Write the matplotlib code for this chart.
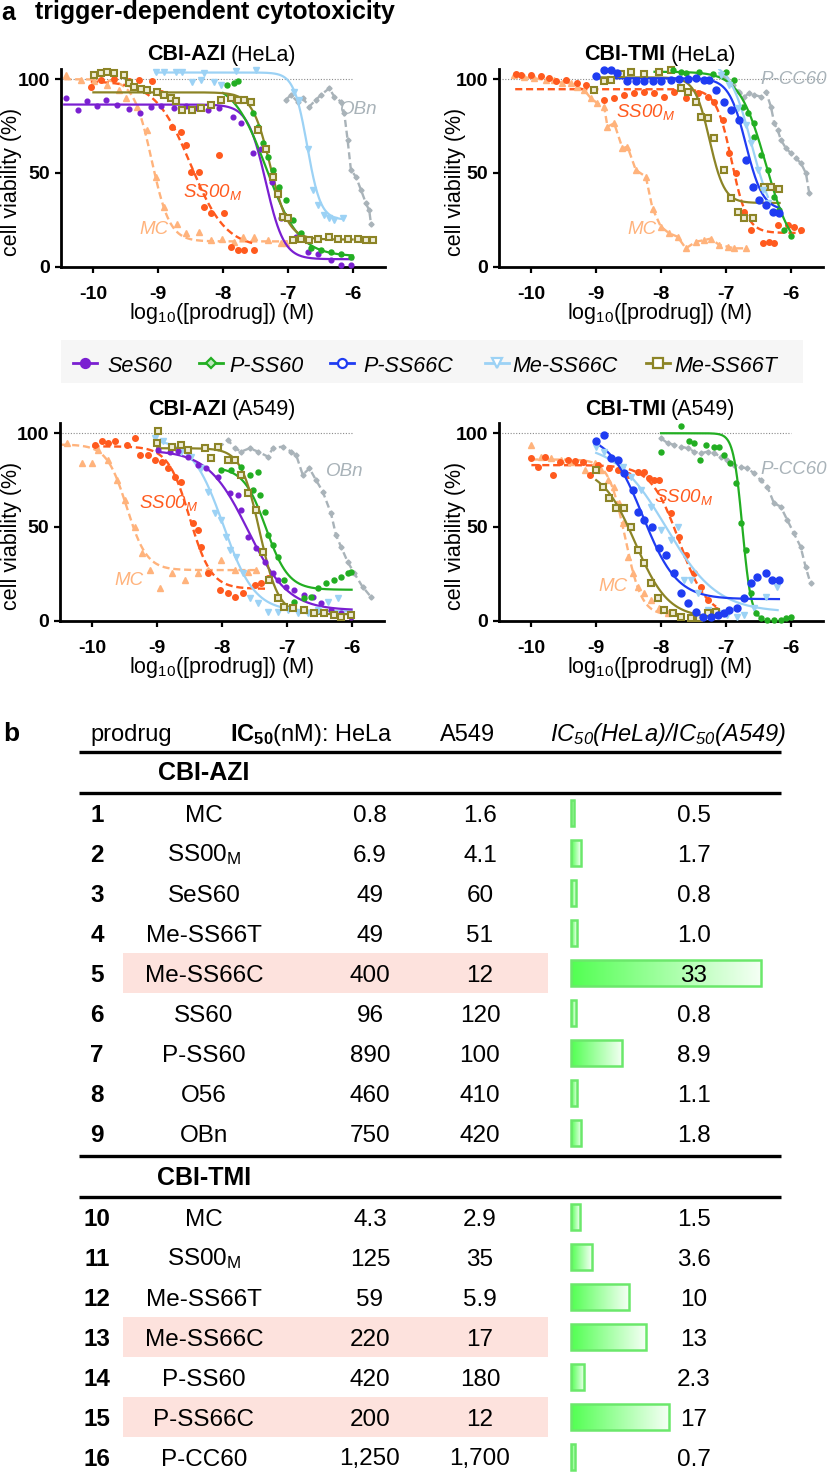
import numpy as np
import matplotlib
matplotlib.use('Agg')
import matplotlib.pyplot as plt
from matplotlib.colors import LinearSegmentedColormap
from matplotlib.patches import Rectangle
from matplotlib.lines import Line2D

FONT = 'Liberation Sans'
plt.rcParams['font.family'] = [FONT, 'DejaVu Sans']
plt.rcParams['mathtext.fontset'] = 'custom'
plt.rcParams['mathtext.rm'] = FONT
plt.rcParams['mathtext.it'] = FONT + ':italic'
plt.rcParams['mathtext.bf'] = FONT + ':bold'
plt.rcParams['mathtext.default'] = 'regular'
plt.rcParams['axes.unicode_minus'] = False

# ======================= DATA =======================
# fit arrays: [top, bottom, logIC50, hill, x_start, x_end]
# ---- CBI-AZI (HeLa)
TL_SES60_X = [-10.417,-10.237,-10.103,-9.938,-9.810,-9.629,-9.449,-9.279,-9.115,-8.960,-8.754,-8.574,-8.394,-8.239,-8.059,-7.853,-7.725,-7.544,-7.416,-7.251,-7.107,-6.875,-6.695,-6.540,-6.335,-6.180,-6.026]
TL_SES60_Y = [89.9,83.6,88.6,85.8,89.0,86.3,84.0,82.0,85.4,85.8,84.5,85.8,84.5,83.6,84.5,80.0,76.5,60.5,62.8,45.4,25.8,16.0,8.0,7.0,3.5,1.0,1.0]
TL_SES60_FIT = [86.5, 4.0, -7.34, 3.1, -10.45, -6.0]
TL_PSS60_X = [-7.931,-7.828,-7.776,-7.647,-7.544,-7.467,-7.390,-7.313,-7.236,-7.133,-7.030,-6.927,-6.798,-6.644,-6.489,-6.335,-6.180,-6.026]
TL_PSS60_Y = [97,98,98.8,89,82,74.7,65.8,58.7,51.6,42.7,35.6,25,17.8,9.8,8.9,8,7,5.3]
TL_PSS60_FIT = [99.0, 5.5, -7.33, 1.7, -8.0, -6.0]
TL_MESS66C_X = [-9.037,-8.909,-8.728,-8.625,-8.471,-8.342,-8.291,-8.136,-8.033,-7.802,-7.493,-6.901,-6.824,-6.695,-6.618,-6.540,-6.438,-6.360,-6.283,-6.154]
TL_MESS66C_Y = [104,104,104,104,98.6,99.6,103.5,98.6,97,104.6,105,93.4,89,63,41,33,27.6,25.8,24.9,25.8]
TL_MESS66C_FIT = [103.6, 25.0, -6.70, 4.2, -9.04, -6.15]
TL_MESS66T_X = [-9.990,-9.887,-9.784,-9.681,-9.526,-9.449,-9.372,-9.269,-9.166,-9.012,-8.909,-8.806,-8.728,-8.625,-8.471,-8.342,-8.188,-8.033,-7.879,-7.776,-7.673,-7.570,-7.467,-7.338,-7.236,-7.158,-7.081,-7.004,-6.927,-6.798,-6.669,-6.540,-6.360,-6.232,-6.077,-5.923,-5.794,-5.691]
TL_MESS66T_Y = [102,103.5,104,103.5,102,97.8,96,94.6,94.3,93.4,91.6,89.8,88.6,83.6,83.6,84.5,86.3,89,89.9,89,89,88,73,63,48,39,26.7,25.8,14,15,14,15,16,15,15,14.6,14.2,14.2]
TL_MESS66T_FIT = [93.0, 14.5, -7.27, 3.1, -10.0, -6.0]
TL_MC_X = [-10.427,-10.196,-9.990,-9.784,-9.604,-9.501,-9.320,-9.166,-9.037,-8.909,-8.703,-8.574,-8.368,-8.188,-8.008,-7.828,-7.699,-7.519,-7.313,-7.107,-7.030]
TL_MC_Y = [102,99.6,99,97,94,90,85,73,48,32,23,17.8,18.7,14,14.6,13,16,16,14,12.5,12.5]
TL_MC_FIT = [100.0, 13.5, -9.10, 3.1, -10.45, -7.0]
TL_SS00M_X = [-10.041,-9.887,-9.681,-9.449,-9.295,-9.089,-8.960,-8.780,-8.651,-8.574,-8.497,-8.368,-8.291,-8.188,-8.059,-7.992,-7.879,-7.776,-7.673,-7.519]
TL_SS00M_Y = [95.7,99.6,100,98.8,99.6,98.8,92.5,74.7,72,65,50.7,50.7,32,28.5,59.6,28.5,10.7,9,9,9]
TL_SS00M_FIT = [99.0, 10.0, -8.50, 1.6, -10.04, -7.5]
TL_OBN_X = [-7.030,-6.952,-6.849,-6.772,-6.669,-6.566,-6.489,-6.360,-6.283,-6.180,-6.129,-6.077,-6.026,-5.949,-5.871,-5.794,-5.743,-5.717]
TL_OBN_Y = [89,91.6,88,90,85.4,89,91.6,95.2,90.7,88,81.9,67.6,51.6,48,41,33.8,30,23]

# ---- CBI-TMI (HeLa)
TR_PSS66C_X = [-9.006,-8.878,-8.775,-8.672,-8.517,-8.389,-8.260,-8.131,-8.003,-7.848,-7.719,-7.591,-7.462,-7.333,-7.256,-7.153,-7.024,-6.921,-6.793,-6.690,-6.587,-6.484,-6.381,-6.278,-6.175]
TR_PSS66C_Y = [101.8,105,105,103.5,98.8,98.8,98.8,98.8,98.8,99.6,100,100,100.5,99.6,99.6,94.3,88,83.6,78.3,57,42.7,35.6,33,29.4,28.5]
TR_PSS66C_FIT = [100.5, 30.0, -6.69, 3.3, -9.0, -6.17]
TR_PSS60_X = [-7.822,-7.694,-7.616,-7.411,-7.205,-6.999,-6.870,-6.741,-6.664,-6.561,-6.561,-6.458,-6.355,-6.252,-6.175,-6.098,-5.995]
TR_PSS60_Y = [105,104,103.5,104,103,104,99.6,85.4,81.9,76.5,69.4,59.6,51.6,37.4,30.2,19.6,16.4]
TR_PSS60_FIT = [104.0, 5.0, -6.38, 2.1, -8.1, -6.0]
TR_MESS66C_X = [-7.076,-6.947,-6.818,-6.690,-6.613,-6.510,-6.432,-6.355]
TR_MESS66C_Y = [102,97,84.5,75.6,65.8,51.6,41,33.8]
TR_MESS66C_FIT = [110.0, 20.0, -6.60, 2.5, -7.1, -6.35]
TR_MESS66T_X = [-9.032,-8.878,-8.775,-8.620,-8.466,-8.260,-8.028,-7.848,-7.694,-7.591,-7.462,-7.385,-7.282,-7.179,-7.024,-6.921,-6.818,-6.716,-6.587,-6.407,-6.304,-6.175]
TR_MESS66T_Y = [94.3,98.8,99.6,103,104,103,104,105,95.2,93.4,88,80,79.2,68.5,51.6,36.5,29.4,25.8,25.8,42.7,42.7,41.3]
TR_MESS66T_FIT = [101.0, 34.0, -7.25, 3.8, -9.03, -6.17]
TR_MC_X = [-10.268,-10.113,-9.959,-9.779,-9.650,-9.521,-9.393,-9.290,-9.187,-9.084,-8.981,-8.878,-8.826,-8.723,-8.595,-8.517,-8.389,-8.234,-8.131,-8.003,-7.874,-7.745,-7.617,-7.462,-7.333,-7.230,-7.102,-6.973,-6.870,-6.690]
TR_MC_Y = [102,101,100.5,99.6,99.6,97.9,97.9,96,94.3,89.9,87.2,85.4,74.7,76.5,63.2,64,51.6,48,31,21.4,17.8,16,9.8,13.3,14.2,15,11.6,10.7,9.8,9.8]
TR_SS00M_X = [-10.242,-10.165,-10.010,-9.856,-9.727,-9.624,-9.470,-9.290,-9.161,-9.032,-8.878,-8.723,-8.569,-8.414,-8.260,-8.106,-7.951,-7.797,-7.617,-7.436,-7.282,-7.179,-7.050,-6.947,-6.844,-6.716,-6.613,-6.432,-6.329,-6.252,-6.201,-6.046,-5.943,-5.840]
TR_SS00M_Y = [102.8,102,102,101.8,100.5,98.8,99.6,97.9,97,94.3,89,89.9,91.6,92.5,93.4,92.5,90.7,93.4,89.9,92.5,90.7,88,78.3,60.5,49.8,29.4,19.6,12.5,13.3,12.8,22.2,22.2,21.4,19.6]
TR_SS00M_FIT = [94.7, 18.0, -6.91, 3.6, -10.25, -5.84]
TR_PCC60_X = [-7.076,-6.999,-6.896,-6.793,-6.716,-6.638,-6.561,-6.458,-6.381,-6.304,-6.252,-6.201,-6.149,-6.072,-5.995,-5.918,-5.840,-5.763,-5.712]
TR_PCC60_Y = [102,100.5,97,93.4,90.7,92.5,91.6,90.7,93.4,85.4,76.5,73,67.6,63.2,60.5,57.8,55.2,49.8,39.1]

# ---- CBI-AZI (A549)
BL_SES60_X = [-8.985,-8.805,-8.677,-8.523,-8.369,-8.241,-8.062,-7.882,-7.754,-7.703,-7.600,-7.472,-7.344,-7.215,-7.138,-7.010,-6.882,-6.728,-6.600,-6.472,-6.318,-6.164,-6.010]
BL_SES60_Y = [91,90.2,90.7,87.5,83.1,81.3,76.9,68,67,59,44.8,38.6,31.5,25.3,21.7,18.1,16.4,13.7,12.8,9.3,5.7,3.9,2.1]
BL_SES60_FIT = [91.0, 5.5, -7.60, 1.4, -9.0, -6.0]
BL_PSS60_X = [-8.010,-7.856,-7.703,-7.574,-7.446,-7.523,-7.421,-7.344,-7.292,-7.215,-7.138,-7.036,-6.882,-6.728,-6.626,-6.523,-6.395,-6.267,-6.164,-6.062,-6.010]
BL_PSS60_Y = [80.4,80.4,82.2,77.8,79.5,69.8,67,58.2,45.7,40.4,34.2,21.7,10.1,11.9,12.8,17.3,19.9,21.7,23.5,25.3,26.2]
BL_PSS60_FIT = [82.0, 16.5, -7.32, 2.5, -8.0, -6.0]
BL_MESS66C_X = [-9.036,-8.908,-8.779,-8.626,-8.472,-8.318,-8.215,-8.113,-8.010,-7.933,-7.882,-7.779,-7.677,-7.574,-7.446,-7.292,-7.138,-6.985,-6.831,-6.677,-6.523,-6.369,-6.215]
BL_MESS66C_Y = [97.3,95.6,92,90.2,87.5,81.3,68.9,57.3,53.7,44.8,37.7,34.2,25.3,11.9,9.3,4.8,4.8,5.7,3.9,3.9,5.7,10.1,11.9]
BL_MESS66C_FIT = [97.0, 5.0, -7.98, 1.8, -9.04, -6.0]
BL_MESS66T_X = [-9.010,-8.985,-8.779,-8.626,-8.523,-8.267,-8.062,-8.164,-7.908,-7.805,-7.703,-7.600,-7.472,-7.369,-7.267,-7.138,-7.036,-6.908,-6.728,-6.574,-6.421,-6.267,-6.164,-6.010]
BL_MESS66T_Y = [94.7,101.4,92.9,93.8,91.1,92,92.9,86.7,85.8,85.8,77.8,68,59,36.8,21.7,11.9,7.5,6.6,5.7,3.9,3.9,3,2.1,3]
BL_MESS66T_FIT = [92.0, 3.5, -7.42, 3.0, -9.0, -6.0]
BL_MC_X = [-10.395,-10.164,-10.010,-9.908,-9.754,-9.626,-9.497,-9.344,-9.241,-9.113,-8.959,-8.779,-8.574,-8.369,-8.215,-8.010,-7.805,-7.600,-7.472]
BL_MC_Y = [94.7,84,84,91,85.8,75,64.4,50.2,36,27,17.3,25.3,21.7,25.3,27,32.4,27,26.2,27]
BL_MC_FIT = [94.0, 27.0, -9.47, 2.8, -10.48, -7.45]
BL_SS00M_X = [-9.959,-9.856,-9.754,-9.651,-9.472,-9.344,-9.267,-9.138,-9.036,-8.933,-8.831,-8.728,-8.626,-8.446,-8.369,-8.318,-8.215,-8.036,-7.908,-7.805,-7.677,-7.497,-7.395,-7.292]
BL_SS00M_Y = [93.8,96,94.7,95.6,93.8,97.3,88.4,88.4,85.8,84.9,81.3,76.9,74.2,52,48.4,39.5,25.3,16.4,14.6,12.8,14.6,19,20,22.6]
BL_SS00M_FIT = [93.0, 17.0, -8.50, 2.6, -10.0, -7.3]
BL_OBN_X = [-8.062,-7.908,-7.805,-7.703,-7.574,-7.446,-7.292,-7.215,-7.062,-6.933,-6.856,-6.754,-6.651,-6.549,-6.446,-6.318,-6.241,-6.164,-6.062,-5.959,-5.831,-5.703]
BL_OBN_Y = [92,96.4,92,90.2,92,90.2,87.5,92,92.9,90.2,88.4,77.8,81.3,75,68.9,57.3,45.7,39.5,31.5,25.3,18.1,12.8]

# ---- CBI-TMI (A549)
BR_PSS66C_X = [-9.0,-8.872,-8.769,-8.667,-8.564,-8.436,-8.349,-8.256,-8.144,-8.026,-7.923,-7.795,-7.692,-7.590,-7.462,-7.359,-7.231,-7.128,-7.026,-6.949,-6.821,-6.718,-6.615,-6.513,-6.385,-6.282,-6.179]
BR_PSS66C_Y = [95.6,99.1,86.7,85.8,78.6,69.8,58.2,53.7,50.2,38.6,35,25.3,14.6,9.3,4.8,2.1,2.1,3,3.9,5.7,6.6,11.9,19.9,23.5,25.3,21.7,21.7]
BR_PSS66C_FIT = [100.0, 11.5, -8.28, 1.65, -9.0, -6.18]
BR_PSS60_X = [-8.0,-7.692,-7.564,-7.487,-7.395,-7.308,-7.179,-7.103,-7.026,-6.933,-6.846,-6.769,-6.692,-6.615,-6.538,-6.462,-6.359,-6.256,-6.154,-6.077,-6.0]
BR_PSS60_Y = [90.2,104,95.6,94.7,85.8,93.8,92.9,92.9,88.4,84,73.3,52,37.7,14.6,3.9,1.2,0.4,0.4,0.4,1.2,2.1]
BR_PSS60_FIT = [100.0, 0.0, -6.745, 6.3, -8.0, -6.5]
BR_MESS66C_X = [-9.0,-8.872,-8.718,-8.590,-8.462,-8.308,-8.154,-8.0,-7.846,-7.744,-7.641,-7.538,-7.436,-7.282,-7.128,-6.974,-6.821,-6.718,-6.564,-6.385,-6.205]
BR_MESS66C_Y = [92.9,90.2,85.8,82.2,76.9,69.8,60.9,48.4,43,50.2,21.7,21.7,14.6,5.7,3.9,3,2.1,3,6.6,12.8,18.1]
BR_MESS66C_FIT = [95.0, 4.5, -7.92, 1.1, -9.0, -6.2]
BR_MESS66T_X = [-9.0,-8.897,-8.795,-8.692,-8.564,-8.462,-8.359,-8.256,-8.154,-8.051,-7.949,-7.821,-7.692,-7.538,-7.410,-7.282,-7.154]
BR_MESS66T_Y = [80.4,71.5,65.3,60,60,50.2,37.7,30.6,19.9,11.9,5.7,3.9,2.1,1.2,1.2,3.9,4.8]
BR_MESS66T_FIT = [82.0, 1.5, -8.40, 1.7, -9.0, -7.15]
BR_MC_X = [-10.0,-9.846,-9.692,-9.538,-9.385,-9.179,-9.026,-8.923,-8.821,-8.718,-8.641,-8.590,-8.513,-8.436,-8.359,-8.256,-8.154,-8.026,-7.897]
BR_MC_Y = [93.8,87.5,86.7,85.8,84.9,80.4,84,80.4,75,71.5,62.6,52,34.2,25.3,18.1,14.6,11,6.6,3.9]
BR_MC_FIT = [86.0, 3.0, -8.555, 3.4, -10.0, -7.9]
BR_SS00M_X = [-10.0,-9.897,-9.795,-9.667,-9.564,-9.436,-9.333,-9.205,-9.103,-8.974,-8.795,-8.667,-8.513,-8.359,-8.256,-8.179,-8.103,-8.026,-7.846,-7.718,-7.615,-7.487,-7.385,-7.282,-7.154]
BR_SS00M_Y = [86.7,82.2,87.5,77.8,84.9,85.8,85.4,84.9,77.8,83.1,81.3,80.4,77.8,79.5,79.5,76,75,75,57.3,44.8,35,25.3,18.1,11,5.7]
BR_SS00M_FIT = [83.0, 2.0, -7.72, 2.0, -10.0, -7.15]
BR_PCC60_X = [-8.0,-7.897,-7.795,-7.692,-7.590,-7.487,-7.385,-7.282,-7.179,-7.077,-6.974,-6.872,-6.769,-6.667,-6.564,-6.462,-6.359,-6.256,-6.154,-6.051,-5.949,-5.846,-5.769,-5.692]
BR_PCC60_Y = [97.3,94.7,93.8,92.9,92,90.2,89.3,90.2,89.3,87.5,85.8,83.1,81.9,81.3,78.6,75,71.5,62.6,60.9,53.7,46.6,39.5,28.8,19.9]

X_TICKS = [-10, -9, -8, -7, -6]
Y_TICKS = [0, 50, 100]
LEGEND_NAMES = ['SeS60', 'P-SS60', 'P-SS66C', 'Me-SS66C', 'Me-SS66T']

# ---- table
AZI_IDS = ['1', '2', '3', '4', '5', '6', '7', '8', '9']
AZI_NAMES = ['MC', 'SS00$_\\mathrm{M}$', 'SeS60', 'Me-SS66T', 'Me-SS66C', 'SS60', 'P-SS60', 'O56', 'OBn']
AZI_HELA = ['0.8', '6.9', '49', '49', '400', '96', '890', '460', '750']
AZI_A549 = ['1.6', '4.1', '60', '51', '12', '120', '100', '410', '420']
AZI_RATIO = [0.5, 1.7, 0.8, 1.0, 33, 0.8, 8.9, 1.1, 1.8]
AZI_HIGHLIGHT = [False, False, False, False, True, False, False, False, False]
TMI_IDS = ['10', '11', '12', '13', '14', '15', '16']
TMI_NAMES = ['MC', 'SS00$_\\mathrm{M}$', 'Me-SS66T', 'Me-SS66C', 'P-SS60', 'P-SS66C', 'P-CC60']
TMI_HELA = ['4.3', '125', '59', '220', '420', '200', '1,250']
TMI_A549 = ['2.9', '35', '5.9', '17', '180', '12', '1,700']
TMI_RATIO = [1.5, 3.6, 10, 13, 2.3, 17, 0.7]
TMI_HIGHLIGHT = [False, False, False, True, False, True, False]

# ======================= STYLE =======================
C_SES = '#7a1fd1'
C_PSS60 = '#22ae22'
C_PSS66C = '#1f3cf2'
C_MESS66C = '#9cd2f5'
C_MESS66T = '#8c8426'
C_SS00 = '#ff5a1e'
C_MC = '#ffb37c'
C_GRAY = '#a9b3b9'

W, H = 829, 1473
fig = plt.figure(figsize=(W / 100, H / 100), dpi=100)
fig.patch.set_facecolor('white')


def px_axes(l, t, r, b, z=2):
    ax = fig.add_axes([l / W, 1 - b / H, (r - l) / W, (b - t) / H])
    ax.set_zorder(z)
    return ax


def logistic(x, top, bottom, x0, hill):
    return bottom + (top - bottom) / (1 + 10 ** ((x - x0) * hill))


# overlay axes in pixel coordinates
ax_bg = fig.add_axes([0, 0, 1, 1]); ax_bg.set_zorder(0)
ax_bg.set_xlim(0, W); ax_bg.set_ylim(H, 0); ax_bg.axis('off')
ax_t = fig.add_axes([0, 0, 1, 1]); ax_t.set_zorder(5)
ax_t.set_xlim(0, W); ax_t.set_ylim(H, 0); ax_t.axis('off'); ax_t.patch.set_alpha(0)


def setup_panel(ax, hline):
    ax.set_xlim(-10.5, -5.5)
    ax.set_ylim(0, 105.3)
    ax.patch.set_alpha(0)
    for s in ['top', 'right']:
        ax.spines[s].set_visible(False)
    for s in ['left', 'bottom']:
        ax.spines[s].set_linewidth(2.0)
    ax.set_xticks(X_TICKS)
    ax.set_yticks(Y_TICKS)
    ax.set_xticklabels([str(v) for v in X_TICKS])
    ax.set_yticklabels([str(v) for v in Y_TICKS])
    ax.tick_params(axis='both', direction='out', length=4.5, width=1.6, labelsize=14)
    ax.tick_params(axis='x', pad=9.5)
    ax.tick_params(axis='y', pad=3.5)
    for lb in ax.get_xticklabels() + ax.get_yticklabels():
        lb.set_fontweight('bold')
    ax.plot(hline, [100, 100], color='#8a8a8a', lw=0.8, ls=(0, (1, 1.5)), zorder=1)


def main_series(ax, x, y, fit, color, marker, ms, mfc=None, mew=1.0, z=4):
    xs = np.linspace(fit[4], fit[5], 300)
    ax.plot(xs, logistic(xs, *fit[:4]), color=color, lw=1.6, zorder=z)
    ax.plot(x, y, ls='none', marker=marker, ms=ms, mfc=mfc if mfc else color,
            mec=color, mew=mew, zorder=z + 0.5, clip_on=False)


def ref_fit(ax, x, y, fit, color, marker, ms, z=2):
    xs = np.linspace(fit[4], fit[5], 300)
    ax.plot(xs, logistic(xs, *fit[:4]), color=color, lw=1.7, ls=(0, (3, 1.6)), zorder=z)
    ax.plot(x, y, ls='none', marker=marker, ms=ms, color=color, zorder=z + 0.5, clip_on=False)


def ref_line(ax, x, y, color, marker, ms, z=1.5):
    order = np.argsort(x)
    xs = np.array(x)[order]; ys = np.array(y)[order]
    ax.plot(xs, ys, color=color, lw=1.7, ls=(0, (3, 1.6)), zorder=z)
    ax.plot(xs, ys, ls='none', marker=marker, ms=ms, color=color, zorder=z + 0.5, clip_on=False)


def lbl(ax, x, y, s, color, ha='center'):
    ax.text(x, y, s, color=color, style='italic', fontsize=13.5, ha=ha, va='center', clip_on=False, zorder=8)


SS00_LABEL = 'SS00$_M$'

# ---------------- panels ----------------
ax1 = px_axes(61, 69.3, 385, 266.7)
setup_panel(ax1, [-10.48, -6.0])
ref_line(ax1, TL_OBN_X, TL_OBN_Y, C_GRAY, 'D', 2.6)
ref_fit(ax1, TL_MC_X, TL_MC_Y, TL_MC_FIT, C_MC, '^', 3.8)
ref_fit(ax1, TL_SS00M_X, TL_SS00M_Y, TL_SS00M_FIT, C_SS00, 'o', 4.0)
main_series(ax1, TL_MESS66C_X, TL_MESS66C_Y, TL_MESS66C_FIT, C_MESS66C, 'v', 5.0)
main_series(ax1, TL_SES60_X, TL_SES60_Y, TL_SES60_FIT, C_SES, 'o', 3.4)
main_series(ax1, TL_PSS60_X, TL_PSS60_Y, TL_PSS60_FIT, C_PSS60, 'o', 3.6)
main_series(ax1, TL_MESS66T_X, TL_MESS66T_Y, TL_MESS66T_FIT, C_MESS66T, 's', 4.6, mfc='#efedd8', mew=1.5)
lbl(ax1, -8.16, 40, SS00_LABEL, C_SS00)
lbl(ax1, -9.07, 19.6, 'MC', C_MC)
lbl(ax1, -5.91, 83.6, 'OBn', C_GRAY)

ax2 = px_axes(499, 69.3, 823, 266.7)
setup_panel(ax2, [-10.45, -5.5])
ref_line(ax2, TR_PCC60_X, TR_PCC60_Y, C_GRAY, 'D', 2.6)
ref_line(ax2, TR_MC_X, TR_MC_Y, C_MC, '^', 3.8, z=2)
ref_fit(ax2, TR_SS00M_X, TR_SS00M_Y, TR_SS00M_FIT, C_SS00, 'o', 4.0)
main_series(ax2, TR_MESS66T_X, TR_MESS66T_Y, TR_MESS66T_FIT, C_MESS66T, 's', 4.6, mfc='#efedd8', mew=1.5)
main_series(ax2, TR_PSS60_X, TR_PSS60_Y, TR_PSS60_FIT, C_PSS60, 'o', 3.6)
main_series(ax2, TR_MESS66C_X, TR_MESS66C_Y, TR_MESS66C_FIT, C_MESS66C, 'v', 5.0)
main_series(ax2, TR_PSS66C_X, TR_PSS66C_Y, TR_PSS66C_FIT, C_PSS66C, 'o', 5.0)
lbl(ax2, -8.234, 82.7, SS00_LABEL, C_SS00)
lbl(ax2, -8.30, 19.6, 'MC', C_MC)
lbl(ax2, -6.46, 99.6, 'P-CC60', C_GRAY, ha='left')

ax3 = px_axes(60, 423.3, 384, 620.7)
setup_panel(ax3, [-10.47, -6.0])
ref_line(ax3, BL_OBN_X, BL_OBN_Y, C_GRAY, 'D', 2.6)
ref_fit(ax3, BL_MC_X, BL_MC_Y, BL_MC_FIT, C_MC, '^', 3.8)
ref_fit(ax3, BL_SS00M_X, BL_SS00M_Y, BL_SS00M_FIT, C_SS00, 'o', 4.0)
main_series(ax3, BL_MESS66C_X, BL_MESS66C_Y, BL_MESS66C_FIT, C_MESS66C, 'v', 5.0)
main_series(ax3, BL_SES60_X, BL_SES60_Y, BL_SES60_FIT, C_SES, 'o', 3.4)
main_series(ax3, BL_PSS60_X, BL_PSS60_Y, BL_PSS60_FIT, C_PSS60, 'o', 3.6)
main_series(ax3, BL_MESS66T_X, BL_MESS66T_Y, BL_MESS66T_FIT, C_MESS66T, 's', 4.6, mfc='#efedd8', mew=1.5)
lbl(ax3, -8.83, 62.6, SS00_LABEL, C_SS00)
lbl(ax3, -9.44, 21.7, 'MC', C_MC)
lbl(ax3, -6.11, 79.5, 'OBn', C_GRAY)

ax4 = px_axes(499, 423.3, 823, 620.7)
setup_panel(ax4, [-10.5, -6.0])
ref_line(ax4, BR_PCC60_X, BR_PCC60_Y, C_GRAY, 'D', 2.6)
ref_fit(ax4, BR_MC_X, BR_MC_Y, BR_MC_FIT, C_MC, '^', 3.8)
ref_fit(ax4, BR_SS00M_X, BR_SS00M_Y, BR_SS00M_FIT, C_SS00, 'o', 4.0)
main_series(ax4, BR_MESS66C_X, BR_MESS66C_Y, BR_MESS66C_FIT, C_MESS66C, 'v', 5.0)
main_series(ax4, BR_PSS60_X, BR_PSS60_Y, BR_PSS60_FIT, C_PSS60, 'o', 3.6)
main_series(ax4, BR_MESS66T_X, BR_MESS66T_Y, BR_MESS66T_FIT, C_MESS66T, 's', 4.6, mfc='#efedd8', mew=1.5)
main_series(ax4, BR_PSS66C_X, BR_PSS66C_Y, BR_PSS66C_FIT, C_PSS66C, 'o', 5.0)
lbl(ax4, -7.65, 66.2, SS00_LABEL, C_SS00)
lbl(ax4, -8.74, 18.1, 'MC', C_MC)
lbl(ax4, -6.46, 80.4, 'P-CC60', C_GRAY, ha='left')

# ---------------- panel text ----------------
renderer = fig.canvas.get_renderer()


def title2(xc, yb, bold, normal, size=15.5):
    t1 = ax_t.text(0, yb, bold, weight='bold', fontsize=size, va='baseline', ha='left')
    t2 = ax_t.text(0, yb, normal, fontsize=size, va='baseline', ha='left')
    w1 = t1.get_window_extent(renderer).width
    w2 = t2.get_window_extent(renderer).width
    gap = 5
    x0 = xc - (w1 + gap + w2) / 2
    t1.set_x(x0)
    t2.set_x(x0 + w1 + gap)


title2(222, 60.5, 'CBI-AZI', '(HeLa)')
title2(660, 60.5, 'CBI-TMI', '(HeLa)')
title2(222, 415, 'CBI-AZI', '(A549)')
title2(660, 415, 'CBI-TMI', '(A549)')

XLAB = 'log$_{\\mathrm{10}}$([prodrug]) (M)'
for xc, yc in [(222, 313), (660, 313), (222, 667), (660, 667)]:
    ax_t.text(xc, yc, XLAB, fontsize=15.5, ha='center', va='center')
for xc, yc in [(12, 182), (456, 182), (12, 536), (456, 536)]:
    ax_t.text(xc, yc, 'cell viability (%)', fontsize=15.5, ha='center', va='center', rotation=90)

ax_t.text(1, 19.5, 'a', fontsize=18, weight='bold', va='baseline', ha='left')
ax_t.text(35, 19.5, 'trigger-dependent cytotoxicity', fontsize=18, weight='bold', va='baseline', ha='left')

# ---------------- legend ----------------
ax_bg.add_patch(Rectangle((61, 340), 742, 43, facecolor='#f6f6f6', edgecolor='none'))
leg_markers = [('o', C_SES, C_SES), ('D', C_PSS60, '#bfe8bf'), ('o', C_PSS66C, 'white'),
               ('v', C_MESS66C, 'white'), ('s', C_MESS66T, 'white')]
leg_pos = [(85, 107), (211, 229), (342, 363), (497, 512), (658, 674)]
for (mk, col, fc), (cx, tx), name in zip(leg_markers, leg_pos, LEGEND_NAMES):
    ax_t.add_line(Line2D([cx - 12, cx + 12], [363, 363], color=col, lw=2.0))
    ax_t.add_line(Line2D([cx], [363], marker=mk, ms=6.5 if mk != 'D' else 5.5, mfc=fc, mec=col, mew=1.6,
                         color=col, ls='none'))
    ax_t.text(tx, 371.5, name, fontsize=15.5, style='italic', va='baseline', ha='left')

# ---------------- table ----------------
TS = 17.5
HS = 17
ax_t.text(3, 741, 'b', fontsize=19, weight='bold', va='baseline', ha='left')
ax_t.text(90, 741, 'prodrug', fontsize=HS, va='baseline', ha='left')
ax_t.text(230, 741, '$\\mathbf{IC_{50}}$(nM): HeLa', fontsize=HS, va='baseline', ha='left')
ax_t.text(440, 741, 'A549', fontsize=HS, va='baseline', ha='left')
ax_t.text(550, 741, '$IC_{50}$(HeLa)/$IC_{50}$(A549)', fontsize=HS, style='italic', va='baseline', ha='left')
for yl in [752, 793, 1156, 1197]:
    ax_t.add_line(Line2D([79, 781], [yl, yl], color='black', lw=2.4, solid_capstyle='butt'))
ax_t.text(204, 780, 'CBI-AZI', fontsize=18, weight='bold', va='baseline', ha='center')
ax_t.text(204, 1185, 'CBI-TMI', fontsize=18, weight='bold', va='baseline', ha='center')

BAR_LEFT_PX, BAR_RIGHT_PX, PX_PER_UNIT = 571, 815, 5.76
ax_bar = px_axes(BAR_LEFT_PX, 0, BAR_RIGHT_PX, H, z=1)
ax_bar.axis('off')
green_cmap = LinearSegmentedColormap.from_list('gw', ['#52ff52', '#f6fff6'])
grad = np.linspace(0, 1, 256).reshape(1, -1)

rows = []
for i in range(len(AZI_IDS)):
    rows.append((813 + 40 * i, AZI_IDS[i], AZI_NAMES[i], AZI_HELA[i], AZI_A549[i], AZI_RATIO[i], AZI_HIGHLIGHT[i]))
for i in range(len(TMI_IDS)):
    rows.append((1217 + 40 * i, TMI_IDS[i], TMI_NAMES[i], TMI_HELA[i], TMI_A549[i], TMI_RATIO[i], TMI_HIGHLIGHT[i]))

for (y, rid, name, hela, a549, ratio, hi) in rows:
    if hi:
        ax_bg.add_patch(Rectangle((123, y - 20), 425, 40, facecolor='#fde2dd', edgecolor='none'))
    yb = y + 8.5
    ax_t.text(97, yb, rid, fontsize=TS, weight='bold', ha='center', va='baseline')
    ax_t.text(204, yb, name, fontsize=TS, ha='center', va='baseline')
    ax_t.text(370, yb, hela, fontsize=TS, ha='center', va='baseline')
    ax_t.text(480, yb, a549, fontsize=TS, ha='center', va='baseline')
    rtxt = ('%d' % round(ratio)) if ratio >= 10 else ('%.1f' % ratio)
    ax_t.text(694, yb, rtxt, fontsize=TS, ha='center', va='baseline')
    ax_bar.imshow(grad, extent=[0, ratio, y + 13, y - 13], cmap=green_cmap, aspect='auto',
                  interpolation='bilinear', zorder=2)
    ax_bar.add_patch(Rectangle((0, y - 13), ratio, 26, fill=False, edgecolor='#6be86b', lw=1.8, zorder=3,
                               clip_on=False))

ax_bar.set_xlim(0, (BAR_RIGHT_PX - BAR_LEFT_PX) / PX_PER_UNIT)
ax_bar.set_ylim(H, 0)

fig.savefig('out.png', dpi=100, facecolor='white')
